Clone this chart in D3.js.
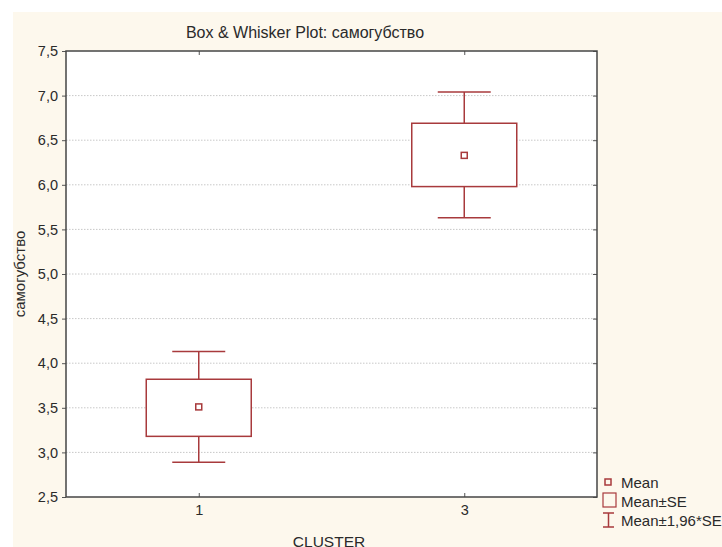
<!DOCTYPE html>
<html>
<head>
<meta charset="utf-8">
<script src="https://cdn.jsdelivr.net/npm/d3@7"></script>
<style>
  html, body { margin: 0; padding: 0; background: #fff; }
  svg { display: block; font-family: "Liberation Sans", Arial, sans-serif; }
</style>
</head>
<body>
<div id="chart"></div>
<script>
// dane
const categories = ["1", "3"];
const means = [3.51, 6.33];
const seLow = [3.18, 5.98];
const seHigh = [3.82, 6.69];
const ciLow = [2.89, 5.63];
const ciHigh = [4.13, 7.04];
const yTicks = [2.5, 3.0, 3.5, 4.0, 4.5, 5.0, 5.5, 6.0, 6.5, 7.0, 7.5];

const W = 722, H = 547;
const m = { left: 66, top: 51, right: 597, bottom: 497 };
const red = "#a83a3c";
const ink = "#2a2a2a";

const svg = d3.select("#chart").append("svg").attr("width", W).attr("height", H);

// tło
svg.append("rect").attr("x", 13).attr("y", 12).attr("width", W - 13).attr("height", H - 12).attr("fill", "#fdf8ed");
svg.append("rect").attr("x", m.left).attr("y", m.top)
  .attr("width", m.right - m.left).attr("height", m.bottom - m.top).attr("fill", "#fff");

const x = d3.scalePoint().domain(categories).range([m.left, m.right]).padding(0.5);
const y = d3.scaleLinear().domain([2.5, 7.5]).range([m.bottom, m.top]);
const fmt = v => d3.format(".1f")(v).replace(".", ",");

// siatka
svg.append("g").selectAll("line").data(yTicks.slice(1, -1)).join("line")
  .attr("x1", m.left).attr("x2", m.right)
  .attr("y1", d => y(d)).attr("y2", d => y(d))
  .attr("stroke", "#c8c8c8").attr("stroke-dasharray", "1.5,1.5");

// osie
const yAxis = svg.append("g").attr("transform", `translate(${m.left},0)`)
  .call(d3.axisLeft(y).tickValues(yTicks).tickFormat(fmt).tickSize(4).tickPadding(4));
yAxis.select(".domain").remove();
yAxis.selectAll(".tick line").attr("stroke", "#555");
yAxis.selectAll("text").attr("font-size", 14.5).attr("fill", ink);

const yRight = svg.append("g").attr("transform", `translate(${m.right},0)`)
  .call(d3.axisLeft(y).tickValues(yTicks).tickFormat("").tickSize(4));
yRight.select(".domain").remove();
yRight.selectAll(".tick line").attr("stroke", "#555");

const xAxis = svg.append("g").attr("transform", `translate(0,${m.bottom})`)
  .call(d3.axisTop(x).tickSize(4).tickPadding(-22));
xAxis.select(".domain").remove();
xAxis.selectAll(".tick line").attr("stroke", "#555");
xAxis.selectAll("text").attr("font-size", 14.5).attr("fill", ink);

const xTop = svg.append("g").attr("transform", `translate(0,${m.top})`)
  .call(d3.axisBottom(x).tickSize(4).tickFormat(""));
xTop.select(".domain").remove();
xTop.selectAll(".tick line").attr("stroke", "#555");

// ramka
svg.append("rect").attr("x", m.left).attr("y", m.top)
  .attr("width", m.right - m.left).attr("height", m.bottom - m.top)
  .attr("fill", "none").attr("stroke", "#454545").attr("stroke-width", 1.5);

// pudełka
const boxW = 105, capW = 53;
const g = svg.append("g").selectAll("g").data(categories).join("g");
g.append("line")
  .attr("x1", d => x(d)).attr("x2", d => x(d))
  .attr("y1", (d, i) => y(ciHigh[i])).attr("y2", (d, i) => y(ciLow[i]))
  .attr("stroke", red).attr("stroke-width", 1.5);
g.append("line")
  .attr("x1", d => x(d) - capW / 2).attr("x2", d => x(d) + capW / 2)
  .attr("y1", (d, i) => y(ciHigh[i])).attr("y2", (d, i) => y(ciHigh[i]))
  .attr("stroke", red).attr("stroke-width", 1.5);
g.append("line")
  .attr("x1", d => x(d) - capW / 2).attr("x2", d => x(d) + capW / 2)
  .attr("y1", (d, i) => y(ciLow[i])).attr("y2", (d, i) => y(ciLow[i]))
  .attr("stroke", red).attr("stroke-width", 1.5);
g.append("rect")
  .attr("x", d => x(d) - boxW / 2).attr("width", boxW)
  .attr("y", (d, i) => y(seHigh[i])).attr("height", (d, i) => y(seLow[i]) - y(seHigh[i]))
  .attr("fill", "#fff").attr("stroke", red).attr("stroke-width", 1.5);
g.append("rect")
  .attr("x", d => x(d) - 3).attr("y", (d, i) => y(means[i]) - 3)
  .attr("width", 6).attr("height", 6)
  .attr("fill", "#fff").attr("stroke", red).attr("stroke-width", 1.5);

// teksty
svg.append("text").attr("x", 305).attr("y", 38).attr("text-anchor", "middle")
  .attr("font-size", 16).attr("fill", ink).text("Box & Whisker Plot: самогубство");
svg.append("text").attr("transform", "translate(25,274) rotate(-90)").attr("text-anchor", "middle")
  .attr("font-size", 15).attr("fill", ink).text("самогубство");
svg.append("text").attr("x", 329).attr("y", 547).attr("text-anchor", "middle")
  .attr("font-size", 15.5).attr("fill", ink).text("CLUSTER");

// legenda
const lg = svg.append("g");
lg.append("rect").attr("x", 605).attr("y", 479).attr("width", 6).attr("height", 6)
  .attr("fill", "none").attr("stroke", red).attr("stroke-width", 1.5);
lg.append("text").attr("x", 621).attr("y", 488).attr("font-size", 15).attr("fill", ink).text("Mean");
lg.append("rect").attr("x", 603).attr("y", 493).attr("width", 13).attr("height", 14)
  .attr("fill", "none").attr("stroke", red).attr("stroke-width", 1.2);
lg.append("text").attr("x", 621).attr("y", 507).attr("font-size", 15).attr("fill", ink).text("Mean±SE");
lg.append("path").attr("d", "M603,513H614M608.5,513V527M603,527H614")
  .attr("fill", "none").attr("stroke", red).attr("stroke-width", 1.5);
lg.append("text").attr("x", 621).attr("y", 526).attr("font-size", 15).attr("fill", ink).text("Mean±1,96*SE");
</script>
</body>
</html>
